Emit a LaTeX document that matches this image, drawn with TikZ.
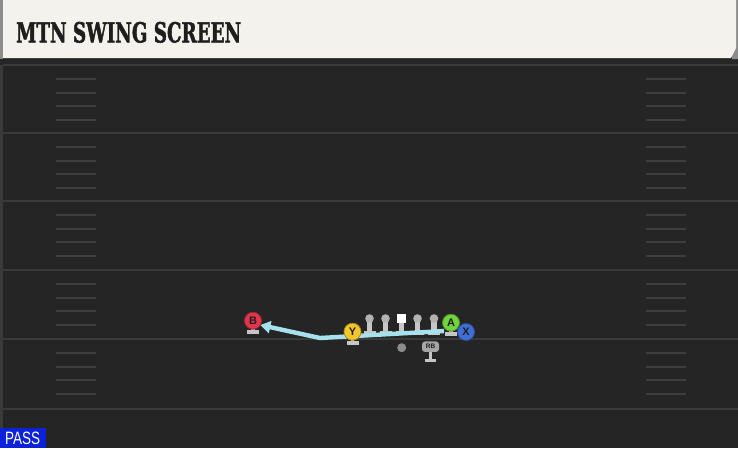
\documentclass[tikz,border=0pt]{standalone}
\usepackage{fontspec}
\setmainfont{DejaVu Serif}
\newfontfamily\sansfont{Liberation Sans}
\newfontfamily\titlefont{DejaVu Serif}[UprightFont={* Bold}, FakeBold=2]
\usetikzlibrary{arrows.meta}
\definecolor{fieldbg}{HTML}{252525}
\definecolor{cream}{HTML}{F4F2EC}
\definecolor{yardcol}{HTML}{3A3A3A}
\definecolor{hashcol}{HTML}{3E3E3E}
\definecolor{standcol}{HTML}{C6C6C6}
\definecolor{routecol}{HTML}{A6E2EE}
\definecolor{redp}{HTML}{E0354B}
\definecolor{yellowp}{HTML}{F2C62E}
\definecolor{greenp}{HTML}{72D43E}
\definecolor{bluep}{HTML}{3F6FD6}
\definecolor{passblue}{HTML}{0B22D9}
\definecolor{titlecol}{HTML}{1E1E1E}
\tikzset{
  player/.style={circle, minimum size=17pt, inner sep=0pt, fill=#1, draw=#1!70!black, line width=0.8pt,
     font=\sansfont\bfseries\fontsize{11}{11}\selectfont, text=titlecol},
  yardline/.style={draw=yardcol, line width=1.6pt},
  hashmark/.style={draw=hashcol, line width=1.4pt},
  route/.style={draw=routecol, line width=4.4pt, line join=round, -{Triangle[length=10pt,width=12pt]}},
  stand/.style={fill=standcol},
}
\begin{document}
\begin{tikzpicture}[x=1pt,y=-1pt]
\useasboundingbox (0,0) rectangle (738,448);
\fill[fieldbg] (0,0) rectangle (738,448);
\fill[yardcol] (0,0) rectangle (2.5,448);
% header
\fill[black!85] (0,57) rectangle (738,65);
\fill[black!45] (0,0) rectangle (3,59);
\fill[black!45] (733,0) -- (738,0) -- (738,59) -- (732,59) -- cycle;
\fill[cream] (3,0) -- (736,0) -- (736,48) -- (731,58) -- (3,58) -- cycle;
\node[anchor=south west, inner sep=0pt, text=titlecol] (title) at (16,43)
  {\resizebox{225pt}{20.5pt}{\titlefont MTN SWING SCREEN}};
% yard lines and hashes
\foreach \yy in {65,133,201,270,339,409} {\draw[yardline] (3,\yy) -- (738,\yy);}
\foreach \yy in {65,133,201,270,339} {
  \foreach \off in {14,28,41,55} {
    \draw[hashmark] (56,\yy+\off) -- (96,\yy+\off);
    \draw[hashmark] (646,\yy+\off) -- (686,\yy+\off);
  }
}
% PASS label
\fill[passblue] (0,428) rectangle (46,448);
\node[anchor=south west, inner sep=0pt, text=white] (pass) at (5,445)
  {\resizebox{35pt}{12.5pt}{\sansfont PASS}};
% player coordinates
\coordinate (rstart) at (444,331);
\coordinate (rbend) at (320,338);
% stands of skill players
\foreach \px/\py in {253/320.7, 352.5/331.7, 451/322.7} {
  \fill[stand] (\px-1.8,\py) rectangle (\px+1.8,\py+10);
  \fill[stand] (\px-6,\py+9) rectangle (\px+6,\py+13.5);
}
% linemen
\foreach \lx in {369.5,385.5,417.5,434} {
  \fill[stand] (\lx-2.7,319) rectangle (\lx+2.7,331);
  \fill[stand] (\lx-6,330.5) rectangle (\lx+6,334.5);
  \fill[black!30] (\lx,318.5) circle (4.3);
}
\fill[stand] (398.8,321) rectangle (404.2,331);
\fill[stand] (395.5,330.5) rectangle (407.5,334.5);
\node[fill=white, minimum size=9pt, inner sep=0pt] (C) at (401.5,318) {};
% route
\draw[route] (rstart) -- (rbend) -- (253+7.4,320.7+4.3);
% skill players
\node[player=redp] (B) at (253,320.7) {B};
\node[player=yellowp] (Y) at (352.5,331.7) {Y};
\node[player=greenp] (A) at (451,322.7) {A};
\node[player=bluep] (X) at (466,332) {X};
% ball
\node[circle, fill=black!45, minimum size=9pt, inner sep=0pt] (ball) at (401.7,347.7) {};
% RB
\fill[stand] (428.8,351) rectangle (432.2,359.5);
\fill[stand] (425,358.5) rectangle (436,362);
\node[fill=black!35, rounded corners=3pt, minimum width=17pt, minimum height=10.5pt, inner sep=0pt,
  font=\sansfont\bfseries\fontsize{6.5}{6.5}\selectfont, text=titlecol] (RB) at (430.5,346.7) {RB};
\end{tikzpicture}
\end{document}
